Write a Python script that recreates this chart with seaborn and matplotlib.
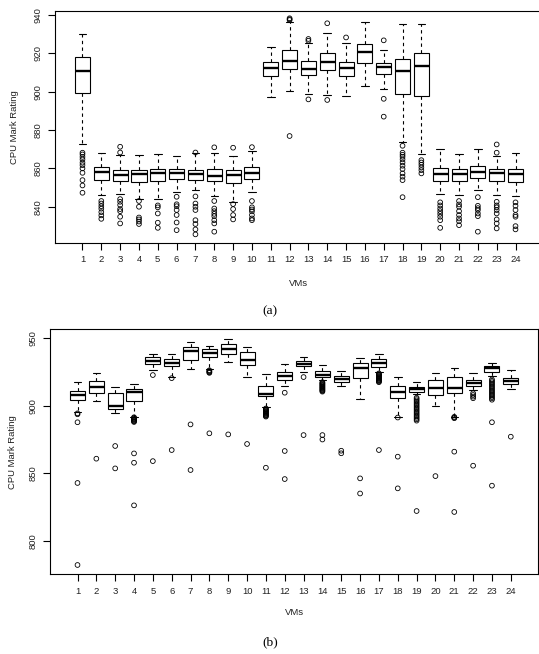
import numpy as np
import pandas as pd
import matplotlib
matplotlib.use("Agg")
import matplotlib.pyplot as plt
import seaborn as sns

# ---------------- data ----------------
vms = [str(i) for i in range(1, 25)]

# panel (a): lower whisker, Q1, median, Q3, upper whisker, outliers
a_lo = [872.5, 846.1, 846.6, 844.3, 843.8, 847.6, 848.7, 845.6, 842.3, 847.8, 897.0, 900.5,
        898.6, 898.3, 897.6, 903.1, 901.2, 873.9, 867.3, 846.6, 846.3, 849.0, 846.1, 845.6]
a_q1 = [899.1, 853.7, 853.4, 852.9, 853.4, 854.3, 853.7, 853.2, 852.5, 854.3, 908.0, 911.8,
        908.5, 911.1, 908.0, 915.0, 909.2, 899.0, 897.7, 853.6, 853.4, 855.1, 853.6, 853.0]
a_med = [911.0, 857.9, 856.5, 857.2, 857.4, 857.4, 856.9, 856.2, 856.7, 857.7, 912.3, 916.2,
         912.0, 915.7, 912.2, 920.7, 912.7, 911.0, 913.2, 857.0, 857.0, 858.1, 857.4, 856.9]
a_q3 = [917.9, 860.5, 859.1, 859.1, 859.7, 859.7, 859.3, 859.5, 859.1, 860.5, 915.5, 921.7,
        915.8, 920.0, 915.7, 924.9, 915.1, 917.2, 920.3, 860.3, 859.8, 861.2, 859.5, 859.5]
a_hi = [929.9, 867.8, 867.0, 867.0, 867.5, 866.4, 867.8, 868.2, 866.6, 869.2, 923.1, 936.5,
        925.2, 930.8, 925.2, 936.5, 921.7, 935.3, 935.3, 869.9, 867.5, 870.3, 866.4, 868.2]
a_out = [
    [868.2, 867.3, 866.0, 864.7, 863.0, 861.7, 860.0, 857.7, 853.9, 851.1, 847.3],
    [843.0, 841.7, 840.3, 839.0, 837.2, 835.5, 833.7],
    [871.3, 868.3, 844.0, 842.6, 840.9, 838.8, 837.7, 834.8, 831.3],
    [843.0, 840.0, 834.4, 833.4, 832.3, 831.0],
    [840.7, 839.7, 836.5, 831.7, 829.0],
    [845.2, 841.3, 840.3, 838.3, 835.7, 831.8, 827.8],
    [868.3, 845.4, 841.7, 840.0, 838.3, 833.0, 831.0, 828.2, 825.6],
    [871.0, 843.0, 839.1, 837.7, 836.3, 835.1, 833.0, 831.3, 827.0],
    [870.8, 841.4, 838.8, 835.7, 833.4],
    [871.1, 843.0, 839.7, 838.6, 837.6, 835.7, 833.9, 833.0],
    [],
    [938.3, 937.8, 937.4, 876.9],
    [927.5, 926.6, 896.0],
    [935.7, 895.7],
    [928.3],
    [],
    [926.8, 896.3, 887.0],
    [871.8, 868.2, 867.1, 866.1, 864.7, 863.1, 861.4, 859.7, 857.4, 855.7, 853.9, 845.0],
    [864.3, 863.1, 861.9, 860.5, 859.1, 857.4],
    [842.3, 840.7, 839.1, 837.7, 836.3, 834.8, 833.0, 829.0],
    [843.0, 841.2, 840.0, 837.7, 835.7, 833.9, 832.5, 830.4],
    [845.0, 840.5, 839.3, 838.3, 836.5, 835.1, 827.0],
    [872.5, 868.2, 842.6, 840.7, 839.7, 838.3, 836.5, 833.4, 831.3, 828.7],
    [842.3, 840.5, 838.3, 835.7, 834.8, 829.9, 828.2],
]

# panel (b)
b_lo = [895.6, 903.8, 894.4, 892.0, 926.5, 921.6, 927.0, 927.0, 932.7, 921.1, 899.0, 914.7,
        924.8, 919.0, 914.9, 905.0, 925.0, 892.0, 908.5, 899.9, 892.0, 911.7, 922.1, 912.4]
b_q1 = [904.3, 909.7, 897.6, 903.8, 931.0, 929.5, 933.9, 935.9, 938.1, 930.0, 907.5, 919.1,
        929.2, 921.6, 917.6, 920.4, 928.9, 905.6, 910.4, 908.0, 909.7, 914.7, 925.3, 916.1]
b_med = [908.0, 914.1, 899.9, 910.2, 933.4, 931.9, 940.6, 938.9, 942.1, 933.9, 908.5, 922.1,
         931.2, 922.8, 920.1, 928.2, 931.9, 910.4, 912.4, 913.4, 913.0, 917.1, 927.8, 918.6]
b_q3 = [911.0, 918.6, 909.7, 912.2, 935.9, 934.4, 943.8, 941.9, 945.6, 940.1, 914.7, 925.3,
        933.2, 925.8, 922.1, 931.5, 934.4, 914.7, 914.1, 919.1, 921.6, 919.1, 929.5, 920.8]
b_hi = [917.4, 924.5, 914.1, 916.0, 938.4, 938.1, 947.5, 944.3, 949.5, 943.3, 923.3, 930.7,
        936.4, 930.4, 926.0, 935.2, 938.1, 921.6, 917.6, 924.1, 928.2, 924.1, 931.9, 926.5]
b_out = [
    [894.4, 893.7, 887.8, 842.8, 782.0],
    [860.8],
    [870.2, 853.6],
    [891.5, 891.0, 890.5, 890.0, 889.5, 889.0, 888.5, 888.0, 864.7, 857.8, 826.2],
    [922.8, 859.0],
    [920.5, 867.2],
    [886.2, 852.4],
    [926.3, 925.8, 925.3, 924.8, 924.4, 879.6],
    [878.8],
    [871.7],
    [898.0, 897.5, 897.0, 896.5, 896.0, 895.5, 895.0, 894.5, 894.0, 893.5, 893.0, 892.5,
     892.0, 854.1],
    [909.7, 866.5, 845.7],
    [921.3, 878.3],
    [917.5, 917.0, 916.5, 916.0, 915.5, 915.0, 914.5, 914.0, 913.5, 913.0, 912.5, 912.0,
     911.5, 911.0, 910.5, 878.3, 875.0],
    [866.7, 864.8],
    [846.2, 835.0],
    [924.0, 923.5, 923.0, 922.5, 922.0, 921.5, 921.0, 920.5, 920.0, 919.5, 919.0, 918.5,
     918.0, 917.5, 867.2],
    [891.3, 862.3, 838.8],
    [906.0, 905.0, 904.0, 903.0, 902.0, 901.0, 900.0, 899.0, 898.0, 897.0, 896.0, 895.0,
     894.0, 893.0, 892.0, 891.0, 890.0, 889.0, 822.0],
    [847.9],
    [891.8, 891.3, 890.8, 866.0, 821.3],
    [909.3, 908.0, 906.8, 905.6, 855.6],
    [919.5, 918.5, 917.5, 916.5, 915.5, 914.5, 913.5, 912.5, 911.5, 910.5, 909.5, 908.5,
     907.5, 906.5, 905.5, 904.5, 887.8, 840.8],
    [877.1],
]

a_yticks = [840, 860, 880, 900, 920, 940]
b_yticks = [800, 850, 900, 950]


def core_frame(lo, q1, med, q3, hi):
    rows = []
    for vm, vals in zip(vms, zip(lo, q1, med, q3, hi)):
        for v in vals:
            rows.append((vm, v))
    return pd.DataFrame(rows, columns=["VM", "rating"])


def outlier_frame(out):
    rows = []
    for vm, vals in zip(vms, out):
        for v in vals:
            rows.append((vm, v))
    return pd.DataFrame(rows, columns=["VM", "rating"])


# ---------------- style ----------------
sns.set_theme(style="ticks")
plt.rcParams["font.family"] = ["Liberation Sans", "DejaVu Sans"]
FS = 6.8

fig = plt.figure(figsize=(5.39, 6.54), dpi=100)
W, H = 539.0, 654.0


def panel(rect_px, lo, q1, med, q3, hi, out, yticks, ylim, ylab_x, xlab_y):
    l, t, r, b = rect_px
    ax = fig.add_axes([l / W, 1 - b / H, (r - l) / W, (b - t) / H])
    sns.boxplot(data=core_frame(lo, q1, med, q3, hi), x="VM", y="rating", order=vms,
                ax=ax, whis=(0, 100), width=0.8, color="white", linecolor="black",
                linewidth=0.8, showfliers=False,
                medianprops=dict(linewidth=1.7, color="black"),
                whiskerprops=dict(linestyle=(0, (3.0, 3.0)), linewidth=0.8, color="black"),
                capprops=dict(linewidth=0.8, color="black"))
    n_before = len(ax.collections)
    sns.stripplot(data=outlier_frame(out), x="VM", y="rating", order=vms, ax=ax,
                  jitter=False, marker="o", size=3.4, color="black", linewidth=0.6)
    for coll in ax.collections[n_before:]:
        coll.set_facecolor("none")
        coll.set_edgecolor("black")
        coll.set_linewidth(0.6)
    ax.set_xlim(-1.46, 24.46)
    ax.set_ylim(*ylim)
    ax.set_yticks(yticks)
    ax.set_yticklabels([str(v) for v in yticks])
    ax.set_xticks(range(len(vms)))
    ax.set_xticklabels(vms)
    ax.tick_params(axis="both", direction="out", length=5, width=0.8, color="black",
                   labelsize=FS, labelcolor="#222222", pad=4)
    for lab in ax.get_yticklabels():
        lab.set_rotation(90)
        lab.set_va("center")
    for s in ax.spines.values():
        s.set_visible(True)
        s.set_color("black")
        s.set_linewidth(0.8)
    ax.set_xlabel("VMs", fontsize=FS, color="#222222")
    ax.set_ylabel("CPU Mark Rating", fontsize=FS, color="#222222")
    ax.yaxis.set_label_coords((ylab_x - l) / (r - l), 0.5)
    ax.xaxis.set_label_coords(0.5, (b - xlab_y) / (b - t))
    ax.grid(False)
    return ax


panel((55, 11, 543, 243), a_lo, a_q1, a_med, a_q3, a_hi, a_out, a_yticks,
      (821.1, 942.1), 19, 279)
panel((50, 329.3, 538.3, 574.3), b_lo, b_q1, b_med, b_q3, b_hi, b_out, b_yticks,
      (775.1, 956.7), 17, 608)

fig.text(270 / W, 1 - 311 / H, "(a)", ha="center", va="center",
         family=["Liberation Serif", "DejaVu Serif"], fontsize=9.7, color="black")
fig.text(270 / W, 1 - 642 / H, "(b)", ha="center", va="center",
         family=["Liberation Serif", "DejaVu Serif"], fontsize=9.7, color="black")

fig.savefig("out.png", dpi=100, facecolor="white")
